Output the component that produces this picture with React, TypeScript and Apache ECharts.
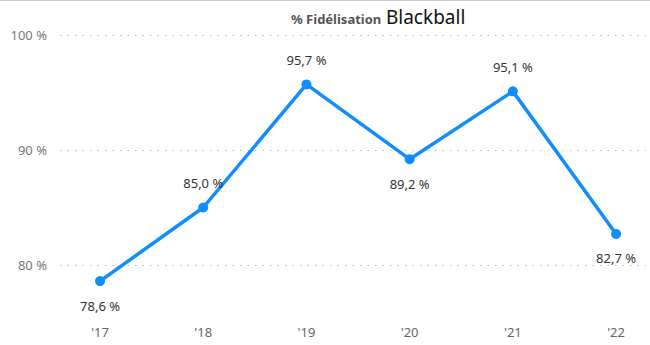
import React, { useEffect, useRef } from "react";
import * as echarts from "echarts";

const categories = ["'17", "'18", "'19", "'20", "'21", "'22"];
const years = [2017, 2018, 2019, 2020, 2021, 2022];
const values = [78.6, 85.0, 95.7, 89.2, 95.1, 82.7];
const labelPositions = ["bottom", "top", "top", "bottom", "top", "bottom"];

export default function App() {
  const ref = useRef<HTMLDivElement>(null);
  useEffect(() => {
    if (!ref.current) return;
    const chart = echarts.init(ref.current, null, { renderer: "svg" });
    const font = "'Noto Sans', 'Open Sans', sans-serif";
    chart.setOption({
      animation: false,
      backgroundColor: "#ffffff",
      textStyle: { fontFamily: font },
      title: {
        left: 286,
        top: 2,
        text: "{a|% Fidélisation} {b|Blackball}",
        textStyle: {
          fontWeight: "normal",
          rich: {
            a: { fontSize: 13, fontWeight: "bold", color: "#555555", fontFamily: font, verticalAlign: "bottom", padding: [0, 0, 1, 0] },
            b: { fontSize: 19, fontWeight: "normal", color: "#111111", fontFamily: font, verticalAlign: "bottom" },
          },
        },
      },
      graphic: [
        {
          type: "line",
          shape: { x1: 0, y1: 0.5, x2: 650, y2: 0.5 },
          style: { stroke: "#c8c8c8", lineWidth: 1 },
        },
      ],
      grid: { left: 60, right: 4, top: 35, bottom: 80, containLabel: false },
      xAxis: {
        type: "value",
        min: 2016.612,
        max: 2022.29,
        axisLine: { show: false },
        axisTick: { show: false },
        splitLine: { show: false },
        axisLabel: {
          customValues: years,
          margin: 60,
          color: "#666666",
          fontSize: 13,
          fontFamily: font,
          formatter: (v: number) => categories[years.indexOf(Math.round(v))] ?? "",
        },
      },
      yAxis: {
        type: "value",
        min: 80,
        max: 100,
        interval: 10,
        axisLine: { show: false },
        axisTick: { show: false },
        axisLabel: {
          margin: 13,
          color: "#777777",
          fontSize: 13,
          fontFamily: font,
          formatter: (v: number) => `${v} %`,
        },
        splitLine: {
          show: true,
          lineStyle: { color: "#bdbdbd", type: [1.5, 6], width: 1.2 },
        },
      },
      series: [
        {
          type: "line",
          clip: false,
          data: years.map((y, i) => ({
            value: [y, values[i]],
            label: { position: labelPositions[i] },
          })),
          lineStyle: { color: "#118DFF", width: 3.5 },
          itemStyle: { color: "#118DFF" },
          symbol: "circle",
          symbolSize: 10,
          label: {
            show: true,
            distance: 13,
            color: "#333333",
            fontSize: 13,
            fontFamily: font,
            formatter: (p: any) => `${p.value[1].toFixed(1).replace(".", ",")} %`,
          },
        },
      ],
    });
    return () => chart.dispose();
  }, []);
  return <div ref={ref} style={{ width: 650, height: 345, position: "absolute", left: 0, top: 0 }} />;
}
